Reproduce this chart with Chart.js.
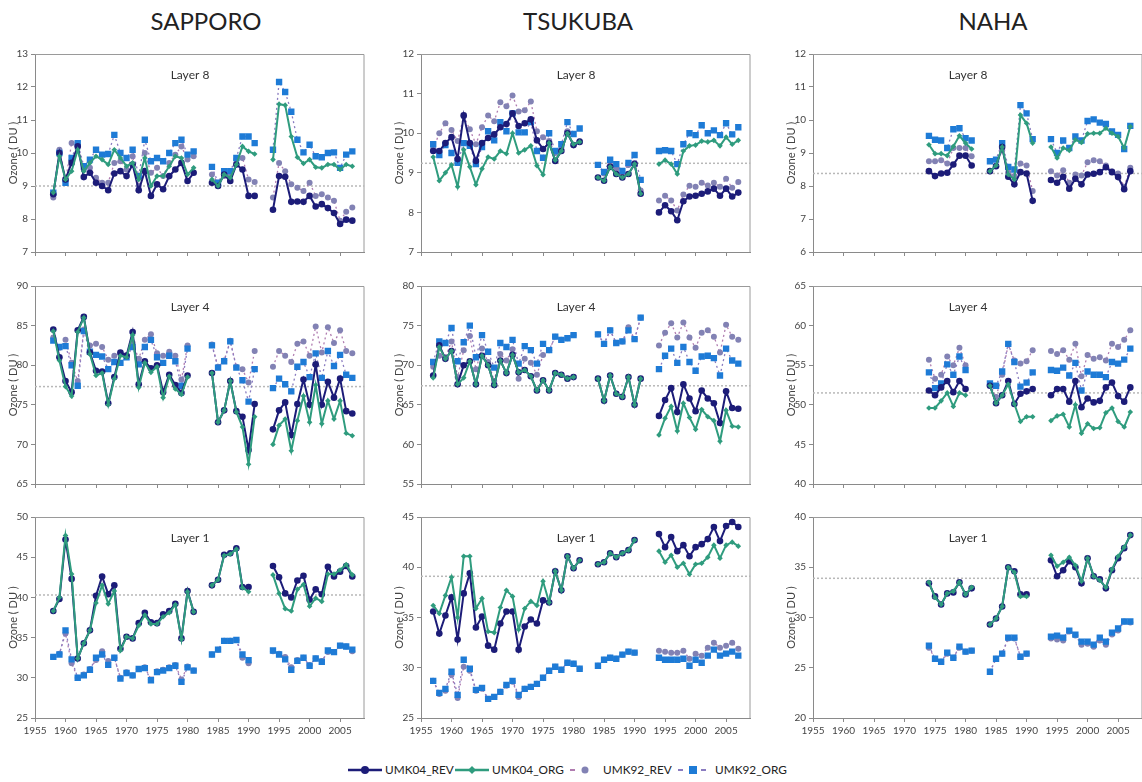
<!DOCTYPE html>
<html>
<head>
<meta charset="utf-8">
<title>Umkehr ozone layers</title>
<script src="https://cdn.jsdelivr.net/npm/chart.js@4.4.1/dist/chart.umd.min.js"></script>
<style>
    body {
        margin: 0;
        width: 1142px;
        height: 782px;
        overflow: hidden;
        position: relative;
        background: #fff;
        font-family: Lato, 'Open Sans', sans-serif;
    }
    .station {
        position: absolute;
        top: 6px;
        font-size: 24px;
        color: #222;
        transform: translateX(-50%);
        white-space: nowrap;
    }
    .panel {
        position: absolute;
    }
    .legend-item {
        position: absolute;
        top: 762px;
        height: 16px;
        line-height: 16px;
        font-size: 11.8px;
        color: #222;
        white-space: nowrap;
    }
    .legend-item svg {
        position: absolute;
        top: 3px;
    }
</style>
</head>
<body>

<div class="station" style="left:206px">SAPPORO</div>
<div class="station" style="left:578px">TSUKUBA</div>
<div class="station" style="left:993px">NAHA</div>

<div class="legend-item" style="left:348px"><svg width="34" height="10"><line x1="0" y1="5" x2="34" y2="5" stroke="#1c1c78" stroke-width="2.5"/><circle cx="17" cy="5" r="4" fill="#1c1c78"/></svg></div>
<div class="legend-item" style="left:385px">UMK04_REV</div>
<div class="legend-item" style="left:455px"><svg width="34" height="10"><line x1="0" y1="5" x2="34" y2="5" stroke="#2f9c7e" stroke-width="2.5"/><path d="M17 1 L21 5 L17 9 L13 5 Z" fill="#2f9c7e"/></svg></div>
<div class="legend-item" style="left:492px">UMK04_ORG</div>
<div class="legend-item" style="left:568px"><svg width="30" height="10"><line x1="2" y1="5" x2="7" y2="5" stroke="#b07cb0" stroke-width="2"/><circle cx="17" cy="5" r="3.5" fill="#8282b4"/></svg></div>
<div class="legend-item" style="left:603px">UMK92_REV</div>
<div class="legend-item" style="left:676px"><svg width="34" height="10"><line x1="2" y1="5" x2="7" y2="5" stroke="#8a7cc0" stroke-width="2"/><rect x="13" y="1" width="8" height="8" fill="#1e7bd6"/><line x1="25" y1="5" x2="30" y2="5" stroke="#8a7cc0" stroke-width="2"/></svg></div>
<div class="legend-item" style="left:715px">UMK92_ORG</div>

<script>
// Annual layer ozone (DU), one value per year, null where no record.
// Sapporo series start in 1958, Tsukuba in 1957, Naha in 1974.

const stationNames = ['SAPPORO', 'TSUKUBA', 'NAHA'];
const layerNames = ['Layer 8', 'Layer 4', 'Layer 1'];
const startYears = [1958, 1957, 1974];

// Sapporo
const sapL8Rev = [8.75, 10.0, 9.2, 9.7, 10.2, 9.27, 9.4, 9.1, 9.0, 8.87, 9.38, 9.45, 9.3, 9.65, 8.87, 9.45, 8.7, 9.05, 8.9, 9.3, 9.5, 9.7, 9.15, 9.4, null, null, 9.1, 9.0, 9.35, 9.15, 9.65, 9.5, 8.7, 8.7, null, null, 8.28, 9.3, 9.28, 8.52, 8.53, 8.52, 8.7, 8.38, 8.45, 8.33, 8.18, 7.85, 7.98, 7.95];
const sapL8Org = [8.8, 9.9, 9.2, 9.45, 10.1, 9.45, 9.7, 9.9, 9.8, 9.65, 10.1, 9.85, 9.6, 9.7, 9.2, 9.85, 9.0, 9.3, 9.3, 9.6, 9.9, 9.85, 9.35, 9.55, null, null, 9.2, 9.0, 9.35, 9.25, 9.65, 10.2, 10.05, 9.97, null, null, 9.8, 11.48, 11.45, 10.5, 9.87, 9.68, 9.8, 9.57, 9.55, 9.65, 9.65, 9.5, 9.65, 9.6];
const sapL8Rev92 = [8.65, 10.1, 9.15, 10.3, 10.2, 9.5, 9.55, 9.25, 9.1, 9.1, 9.7, 9.75, 9.5, 9.9, 9.0, 10.0, 9.4, 9.55, 9.3, 9.7, 9.95, 10.2, 9.8, 9.9, null, null, 9.35, 9.1, 9.3, 9.35, 9.8, 9.85, 9.2, 9.12, null, null, 8.65, 9.7, 9.45, 9.05, 8.95, 8.85, 9.1, 8.7, 8.75, 8.65, 8.55, 7.95, 8.22, 8.35];
const sapL8Org92 = [8.8, 10.0, 9.1, 9.85, 10.3, 9.6, 9.8, 10.1, 9.95, 9.97, 10.55, 10.0, 9.85, 10.1, 9.3, 10.4, 9.75, 9.85, 9.75, 10.0, 10.3, 10.4, 9.95, 10.05, null, null, 9.58, 9.1, 9.45, 9.45, 9.85, 10.5, 10.5, 10.3, null, null, 10.1, 12.15, 11.85, 11.25, 10.4, 10.02, 10.25, 9.9, 9.87, 10.0, 10.02, 9.55, 9.95, 10.05];

const sapL4Rev = [84.5, 81.0, 78.0, 76.6, 84.4, 86.1, 81.6, 79.3, 79.2, 75.2, 78.5, 81.6, 81.2, 84.2, 77.6, 80.5, 79.6, 80.0, 76.6, 78.8, 77.5, 76.5, 78.7, null, null, null, 79.0, 72.8, 74.3, 78.0, 74.2, 73.5, 69.3, 75.1, null, null, 71.9, 74.3, 75.3, 71.2, 75.1, 78.2, 75.0, 80.1, 75.0, 77.9, 75.9, 78.3, 74.2, 73.9];
const sapL4Org = [84.3, 80.6, 77.3, 76.1, 84.2, 86.0, 81.4, 78.7, 79.0, 75.0, 78.3, 81.2, 81.0, 83.8, 77.2, 80.3, 79.1, 79.8, 75.9, 78.6, 77.0, 76.3, 78.5, null, null, null, 79.0, 72.8, 74.3, 78.0, 74.1, 72.2, 67.5, 73.5, null, null, 70.0, 72.4, 73.2, 69.2, 73.0, 76.1, 72.8, 77.5, 72.6, 75.5, 73.2, 75.5, 71.4, 71.1];
const sapL4Rev92 = [83.5, 82.2, 83.2, 80.3, 78.0, 84.5, 82.5, 82.7, 82.3, 80.7, 81.2, 81.5, 81.3, 82.8, 80.8, 83.2, 83.9, 81.5, 81.2, 81.7, 81.2, 78.2, 82.5, null, null, null, 82.6, 79.8, 80.6, 83.1, 79.8, 79.5, 77.8, 81.8, null, null, 79.8, 81.8, 81.2, 80.4, 82.7, 83.0, 81.2, 84.9, 81.6, 84.8, 82.8, 84.4, 81.8, 81.5];
const sapL4Org92 = [83.1, 82.3, 82.4, 80.0, 77.4, 84.3, 81.7, 81.3, 81.1, 79.5, 80.4, 80.3, 81.0, 82.3, 80.1, 82.3, 83.2, 81.0, 80.3, 81.2, 80.5, 77.4, 82.1, null, null, null, 82.5, 79.7, 80.5, 83.0, 79.7, 78.1, 75.4, 79.5, null, null, 77.1, 78.3, 77.6, 76.7, 79.8, 80.4, 78.5, 81.5, 78.4, 81.8, 79.9, 81.3, 78.8, 78.4];

const sapL1Rev = [38.3, 39.8, 47.2, 42.3, 32.4, 34.3, 35.9, 40.2, 42.6, 40.4, 41.5, 33.6, 35.1, 34.9, 36.8, 38.1, 36.9, 36.8, 37.9, 38.3, 39.2, 34.9, 40.8, 38.2, null, null, 41.5, 42.2, 45.3, 45.5, 46.1, 41.3, 41.3, null, null, null, 43.9, 42.5, 40.5, 40.0, 42.1, 42.7, 39.7, 41.0, 40.4, 43.8, 42.6, 43.2, 43.9, 42.6];
const sapL1Org = [38.3, 40.0, 47.7, 42.9, 32.4, 34.3, 35.9, 39.3, 41.5, 39.2, 40.8, 33.4, 35.1, 34.9, 36.5, 37.8, 36.7, 36.7, 37.6, 38.1, 39.1, 34.8, 40.7, 38.2, null, null, 41.5, 42.2, 45.2, 45.4, 46.0, 41.2, 40.7, null, null, null, 42.8, 40.5, 38.6, 38.3, 41.0, 41.6, 38.9, 39.9, 39.5, 42.9, 42.9, 43.4, 44.1, 42.8];
const sapL1Rev92 = [32.6, 33.0, 35.5, 31.8, 30.0, 30.4, 31.1, 32.2, 33.3, 32.1, 32.5, 30.0, 30.7, 30.3, 31.1, 31.3, 29.8, 30.8, 31.0, 31.3, 31.6, 29.8, 31.4, 30.9, null, null, 32.9, 33.5, 34.6, 34.6, 34.7, 32.5, 31.8, null, null, null, 33.3, 33.0, 32.6, 31.3, 32.2, 32.5, 31.6, 32.4, 32.1, 33.2, 33.2, 34.0, 33.9, 33.3];
const sapL1Org92 = [32.6, 32.9, 35.9, 32.3, 30.0, 30.3, 31.0, 32.5, 32.9, 31.6, 32.5, 29.9, 30.6, 30.3, 31.1, 31.2, 29.7, 30.7, 30.9, 31.2, 31.5, 29.5, 31.3, 30.9, null, null, 32.9, 33.5, 34.6, 34.6, 34.7, 32.9, 32.2, null, null, null, 33.4, 32.9, 32.3, 31.0, 32.1, 32.5, 31.5, 32.4, 32.0, 33.4, 33.2, 34.0, 33.9, 33.5];

// Tsukuba
const tskL8Rev = [9.55, 9.55, 9.75, 9.9, 9.35, 10.45, 9.75, 9.3, 9.75, 9.88, 9.97, 10.15, 10.23, 10.5, 10.18, 10.25, 10.35, 9.82, 9.6, 9.75, 9.3, 9.55, 10.0, 9.7, 9.78, null, null, 8.88, 8.8, 9.15, 8.97, 8.88, 8.97, 9.22, 8.47, null, null, 8.0, 8.18, 8.03, 7.8, 8.28, 8.4, 8.42, 8.47, 8.53, 8.6, 8.42, 8.6, 8.4, 8.5];
const tskL8Org = [9.4, 8.8, 9.0, 9.2, 8.65, 9.58, 9.15, 8.7, 9.1, 9.4, 9.35, 9.55, 9.48, 10.0, 9.5, 9.58, 9.68, 9.18, 8.95, 9.75, 9.32, 9.55, 10.0, 9.72, 9.78, null, null, 8.88, 8.8, 9.15, 8.97, 8.88, 8.97, 9.22, 8.47, null, null, 9.22, 9.32, 9.22, 8.97, 9.55, 9.68, 9.7, 9.8, 9.78, 9.82, 9.68, 9.9, 9.72, 9.82];
const tskL8Rev92 = [9.6, 10.0, 10.25, 10.08, 9.8, 10.42, 10.1, 9.72, 10.15, 10.45, 10.3, 10.78, 10.68, 10.95, 10.55, 10.58, 10.8, 10.05, 9.9, 9.8, 9.5, 9.6, 10.05, 9.7, 9.8, null, null, 9.2, 8.98, 9.2, 9.1, 8.95, 9.2, 9.25, 8.55, null, null, 8.3, 8.42, 8.3, 8.05, 8.45, 8.67, 8.65, 8.75, 8.68, 8.75, 8.65, 8.85, 8.62, 8.77];
const tskL8Org92 = [9.72, 9.45, 9.7, 9.5, 9.25, 9.75, 9.68, 9.22, 9.65, 10.05, 9.82, 10.28, 10.05, 10.5, 10.02, 10.02, 10.28, 9.55, 9.38, 10.0, 9.55, 9.72, 10.28, 9.98, 10.12, null, null, 9.2, 9.02, 9.33, 9.22, 9.05, 9.25, 9.45, 8.82, null, null, 9.55, 9.57, 9.55, 9.22, 9.72, 10.0, 9.95, 10.2, 10.0, 10.07, 9.95, 10.25, 9.97, 10.15];

const tskL4Rev = [68.7, 72.5, 70.8, 71.8, 67.6, 70.0, 70.5, 67.6, 71.2, 70.0, 67.5, 70.6, 69.0, 71.3, 69.1, 69.4, 68.6, 66.8, 68.1, 66.8, 69.0, 68.8, 68.3, 68.5, null, null, null, 68.3, 65.5, 68.7, 66.4, 66.0, 68.5, 65.0, 68.3, null, null, 63.6, 65.6, 67.1, 64.1, 67.6, 65.8, 64.2, 66.8, 65.8, 65.2, 62.7, 66.7, 64.6, 64.5];
const tskL4Org = [68.4, 72.3, 70.8, 71.8, 67.6, 68.4, 70.5, 67.6, 71.2, 70.0, 67.5, 70.6, 69.0, 71.3, 69.1, 69.4, 68.6, 66.8, 68.1, 66.8, 69.0, 68.8, 68.3, 68.5, null, null, null, 68.3, 65.5, 68.7, 66.4, 66.0, 68.5, 65.0, 68.3, null, null, 61.2, 63.3, 64.8, 61.7, 65.2, 63.4, 61.9, 64.4, 63.5, 63.0, 60.4, 64.3, 62.3, 62.2];
const tskL4Rev92 = [69.8, 71.2, 71.0, 73.0, 68.5, 71.9, 73.7, 69.5, 72.1, 70.4, 68.0, 71.4, 70.6, 72.0, 68.3, 70.8, 70.3, 68.8, 71.3, 71.9, 73.6, 73.2, 73.4, 73.8, null, null, null, 73.9, 72.7, 74.4, 72.8, 73.0, 74.8, 73.3, 76.0, null, null, 72.5, 74.1, 75.3, 73.5, 75.4, 73.5, 72.2, 74.1, 74.4, 73.6, 71.6, 75.1, 73.6, 73.2];
const tskL4Org92 = [70.4, 73.0, 72.8, 74.7, 70.5, 72.9, 75.0, 71.0, 73.8, 71.7, 69.7, 72.8, 72.3, 73.2, 70.2, 72.4, 71.9, 70.2, 72.7, 71.9, 73.6, 73.2, 73.4, 73.8, null, null, null, 73.9, 72.7, 74.4, 72.8, 73.0, 74.4, 73.3, 76.0, null, null, 69.5, 71.2, 72.1, 70.3, 72.3, 70.4, 69.3, 71.1, 71.2, 70.9, 68.7, 72.1, 70.6, 70.2];

const tskL1Rev = [35.6, 33.4, 35.2, 37.0, 32.8, 37.4, 39.4, 34.0, 35.1, 32.2, 31.8, 34.4, 35.6, 35.6, 31.8, 34.1, 34.8, 34.4, 36.7, 36.5, 39.6, 37.7, 41.1, 39.9, 40.7, null, null, 40.3, 40.5, 41.4, 41.0, 41.4, 41.7, 42.7, null, null, null, 43.3, 42.0, 43.0, 41.6, 42.2, 41.1, 42.0, 42.3, 42.8, 44.0, 42.6, 44.1, 44.5, 44.0];
const tskL1Org = [36.2, 35.4, 37.2, 39.0, 35.0, 41.1, 41.1, 35.9, 36.9, 33.6, 33.5, 36.0, 37.7, 37.1, 33.8, 35.9, 36.6, 36.2, 38.6, 36.5, 39.6, 37.7, 41.1, 39.9, 40.7, null, null, 40.3, 40.5, 41.4, 41.0, 41.4, 41.7, 42.7, null, null, null, 41.6, 40.5, 41.2, 40.0, 40.4, 39.3, 40.3, 40.4, 41.0, 42.2, 40.9, 42.2, 42.5, 42.1];
const tskL1Rev92 = [28.7, 27.4, 27.7, 29.3, 27.0, 30.1, 29.7, 27.7, 27.9, 26.9, 27.1, 27.6, 28.2, 28.6, 27.1, 27.9, 28.1, 28.4, 29.0, 29.7, 30.1, 29.8, 30.5, 30.4, 29.9, null, null, 30.2, 30.8, 31.0, 30.9, 31.3, 31.6, 31.5, null, null, null, 31.7, 31.6, 31.5, 31.5, 31.7, 30.9, 31.4, 31.2, 32.0, 32.5, 32.0, 32.2, 32.5, 31.9];
const tskL1Org92 = [28.7, 27.5, 27.9, 29.6, 27.3, 30.8, 29.9, 27.8, 28.0, 26.9, 27.1, 27.6, 28.3, 28.7, 27.3, 27.9, 28.1, 28.4, 29.0, 29.7, 30.1, 29.8, 30.5, 30.4, 29.9, null, null, 30.2, 30.8, 31.0, 30.9, 31.3, 31.6, 31.5, null, null, null, 31.0, 30.8, 30.8, 30.8, 30.9, 30.2, 30.8, 30.5, 31.2, 31.8, 31.2, 31.4, 31.6, 31.2];

// Naha
const nahL8Rev = [8.45, 8.3, 8.38, 8.4, 8.65, 8.92, 8.92, 8.62, null, null, 8.45, 8.6, 9.18, 8.28, 8.05, 8.42, 8.38, 7.55, null, null, 8.18, 8.1, 8.28, 7.92, 8.22, 8.05, 8.35, 8.37, 8.42, 8.57, 8.42, 8.27, 7.9, 8.45];
const nahL8Org = [9.25, 8.98, 8.98, 8.92, 9.2, 9.52, 9.3, 9.12, null, null, 8.45, 8.62, 9.18, 8.35, 8.2, 10.15, 9.9, 9.3, null, null, 9.18, 8.85, 9.15, 9.08, 9.4, 9.32, 9.58, 9.6, 9.6, 9.75, 9.6, 9.5, 9.15, 9.8];
const nahL8Rev92 = [8.75, 8.75, 8.78, 8.68, 9.15, 9.15, 9.15, 8.9, null, null, 8.45, 8.62, 9.08, 8.42, 8.3, 8.68, 8.62, 7.85, null, null, 8.45, 8.32, 8.48, 8.1, 8.35, 8.32, 8.72, 8.78, 8.75, 8.62, 8.45, 8.38, 7.98, 8.55];
const nahL8Org92 = [9.52, 9.4, 9.38, 9.15, 9.72, 9.75, 9.45, 9.38, null, null, 8.75, 8.8, 9.3, 8.58, 8.5, 10.45, 10.2, 9.42, null, null, 9.42, 9.0, 9.38, 9.15, 9.5, 9.38, 9.97, 10.02, 9.92, 9.88, 9.65, 9.55, 9.12, 9.82];

const nahL4Rev = [51.8, 51.2, 52.2, 53.0, 51.6, 53.0, 52.0, null, null, null, 52.4, 50.2, 51.2, 53.0, 50.1, 51.4, 51.7, 52.0, null, null, 51.2, 52.0, 52.0, 50.4, 53.0, 49.7, 50.8, 50.3, 50.5, 52.2, 52.8, 51.1, 50.4, 52.2];
const nahL4Org = [49.6, 49.6, 50.5, 51.5, 49.8, 51.5, 51.2, null, null, null, 52.4, 50.2, 51.2, 52.6, 50.1, 47.9, 48.5, 48.5, null, null, 48.0, 48.6, 48.8, 47.2, 50.0, 46.4, 47.6, 47.0, 47.1, 49.0, 49.6, 47.9, 47.2, 49.1];
const nahL4Rev92 = [55.7, 53.3, 53.8, 56.1, 55.0, 57.2, 55.0, null, null, null, 52.6, 51.0, 53.8, 57.6, 55.6, 55.2, 55.5, 56.9, null, null, 56.8, 56.4, 56.9, 55.7, 57.7, 53.6, 56.3, 55.8, 56.0, 55.6, 57.7, 57.3, 58.2, 59.4];
const nahL4Org92 = [54.1, 52.1, 52.7, 55.1, 53.8, 56.1, 54.4, null, null, null, 52.7, 52.4, 54.2, 57.7, 55.4, 52.3, 52.8, 54.1, null, null, 54.4, 54.3, 54.7, 53.7, 55.3, 51.8, 54.2, 53.8, 53.8, 53.5, 55.4, 55.2, 55.7, 57.1];

const nahL1Rev = [33.4, 32.1, 31.3, 32.4, 32.5, 33.5, 32.3, 32.9, null, null, 29.3, 29.9, 31.1, 35.0, 34.6, 32.3, 32.3, null, null, null, 35.7, 34.1, 34.7, 35.6, 35.0, 33.4, 35.9, 34.1, 33.8, 32.9, 34.7, 35.9, 36.9, 38.2];
const nahL1Org = [33.5, 32.0, 31.3, 32.4, 32.6, 33.5, 32.3, 33.0, null, null, 29.3, 29.9, 31.1, 35.0, 34.5, 32.1, 32.1, null, null, null, 36.2, 35.1, 35.5, 36.0, 35.2, 33.6, 35.9, 34.1, 33.7, 33.0, 34.8, 36.1, 37.0, 38.2];
const nahL1Rev92 = [27.0, 25.9, 25.6, 26.4, 26.0, 27.0, 26.6, 26.7, null, null, 24.6, 25.9, 26.4, 27.9, 27.9, 26.1, 26.4, null, null, null, 27.9, 27.8, 27.7, 28.6, 28.2, 27.3, 27.4, 27.1, 27.7, 27.3, 28.3, 28.7, 29.6, 29.5];
const nahL1Org92 = [27.2, 25.9, 25.6, 26.5, 26.0, 27.1, 26.6, 26.7, null, null, 24.6, 25.9, 26.4, 28.0, 28.0, 26.1, 26.4, null, null, null, 28.1, 28.2, 28.0, 28.7, 28.3, 27.6, 27.6, 27.3, 28.0, 27.6, 28.5, 28.9, 29.6, 29.6];

// Long-term mean level drawn as the dotted line (Layer 8, 4, 1)
const sapporoRef = [9.0, 77.3, 40.3];
const tsukubaRef = [9.24, 67.4, 39.1];
const nahaRef = [8.38, 51.5, 33.9];

// Y axis ranges [min, max, step] per layer
const sapporoAxis = [[7, 13, 1], [65, 90, 5], [25, 50, 5]];
const tsukubaAxis = [[7, 12, 1], [55, 80, 5], [25, 45, 5]];
const nahaAxis = [[6, 12, 1], [40, 65, 5], [20, 40, 5]];

const yearTicks = [1955, 2009, 5];

// rows: layer 8, 4, 1 ; columns: Sapporo, Tsukuba, Naha
const seriesGrid = [
    [[sapL8Rev, sapL8Org, sapL8Rev92, sapL8Org92], [tskL8Rev, tskL8Org, tskL8Rev92, tskL8Org92], [nahL8Rev, nahL8Org, nahL8Rev92, nahL8Org92]],
    [[sapL4Rev, sapL4Org, sapL4Rev92, sapL4Org92], [tskL4Rev, tskL4Org, tskL4Rev92, tskL4Org92], [nahL4Rev, nahL4Org, nahL4Rev92, nahL4Org92]],
    [[sapL1Rev, sapL1Org, sapL1Rev92, sapL1Org92], [tskL1Rev, tskL1Org, tskL1Rev92, tskL1Org92], [nahL1Rev, nahL1Org, nahL1Rev92, nahL1Org92]]
];
const refGrid = [sapporoRef, tsukubaRef, nahaRef];
const axisGrid = [sapporoAxis, tsukubaAxis, nahaAxis];

// colours
const NAVY = '#1c1c78';
const GREEN = '#2f9c7e';
const PURPLE = '#8282b4';
const PURPLE_LINE = '#b07cb0';
const BLUE = '#1e7bd6';
const BLUE_LINE = '#8a7cc0';

// panel layout
const plotLeft = [35, 421, 813];
const plotTop = [51, 283, 514];
const plotW = 333;
const plotH = 204;
const yAxisW = 34;
const padTop = 6;

function toPoints(values, start) {
    return values.map(function(v, i) {
        return { x: start + i, y: v };
    });
}

// frame around the plot area plus the layer caption
const framePlugin = {
    id: 'frame',
    beforeDatasetsDraw: function(chart, args, opts) {
        const a = chart.chartArea;
        const ctx = chart.ctx;
        ctx.save();
        ctx.strokeStyle = '#9a9a9a';
        ctx.lineWidth = 1;
        ctx.beginPath();
        ctx.moveTo(a.left, a.top + 0.5);
        ctx.lineTo(a.right - 0.5, a.top + 0.5);
        ctx.lineTo(a.right - 0.5, a.bottom);
        ctx.stroke();
        ctx.fillStyle = '#333';
        ctx.font = '12px Lato, "Open Sans", sans-serif';
        ctx.textAlign = 'center';
        ctx.textBaseline = 'middle';
        ctx.fillText(opts.label, a.left + 155, a.top + 21);
        ctx.restore();
    }
};

for (let row = 0; row < 3; row++) {
    for (let col = 0; col < 3; col++) {
        const bottomRow = row === 2;
        const xAxisH = bottomRow ? 24 : 6;
        const start = startYears[col];
        const series = seriesGrid[row][col];
        const ref = refGrid[col][row];
        const axis = axisGrid[col][row];

        const box = document.createElement('div');
        box.className = 'panel';
        box.style.left = (plotLeft[col] - yAxisW) + 'px';
        box.style.top = (plotTop[row] - padTop) + 'px';
        box.style.width = (yAxisW + plotW + 1) + 'px';
        box.style.height = (padTop + plotH + xAxisH) + 'px';
        const canvas = document.createElement('canvas');
        box.appendChild(canvas);
        document.body.appendChild(box);

        new Chart(canvas, {
            type: 'line',
            data: {
                datasets: [
                    {
                        label: 'UMK04_REV',
                        data: toPoints(series[0], start),
                        borderColor: NAVY,
                        backgroundColor: NAVY,
                        borderWidth: 2,
                        pointStyle: 'circle',
                        pointRadius: 3.3,
                        pointBorderWidth: 0,
                        order: 1
                    },
                    {
                        label: 'UMK04_ORG',
                        data: toPoints(series[1], start),
                        borderColor: GREEN,
                        backgroundColor: GREEN,
                        borderWidth: 2,
                        pointStyle: 'rectRot',
                        pointRadius: 2.8,
                        pointBorderWidth: 0,
                        order: 0
                    },
                    {
                        label: 'UMK92_REV',
                        data: toPoints(series[2], start),
                        borderColor: PURPLE_LINE,
                        backgroundColor: PURPLE,
                        pointBackgroundColor: PURPLE,
                        borderWidth: 1.3,
                        borderDash: [2, 3],
                        pointStyle: 'circle',
                        pointRadius: 3,
                        pointBorderWidth: 0,
                        order: 3
                    },
                    {
                        label: 'UMK92_ORG',
                        data: toPoints(series[3], start),
                        borderColor: BLUE_LINE,
                        backgroundColor: BLUE,
                        pointBackgroundColor: BLUE,
                        borderWidth: 1.3,
                        borderDash: [2, 3],
                        pointStyle: 'rect',
                        pointRadius: 4.5,
                        pointBorderWidth: 0,
                        order: 2
                    },
                    {
                        label: 'mean',
                        data: [{ x: yearTicks[0], y: ref }, { x: yearTicks[1], y: ref }],
                        borderColor: '#b8b8b8',
                        borderWidth: 1.5,
                        borderDash: [2, 2],
                        pointRadius: 0,
                        order: 9
                    }
                ]
            },
            options: {
                responsive: true,
                maintainAspectRatio: false,
                animation: false,
                events: [],
                layout: { padding: { top: padTop, right: 1, left: 0, bottom: 0 } },
                elements: { line: { tension: 0 } },
                plugins: {
                    legend: { display: false },
                    tooltip: { enabled: false },
                    frame: { label: layerNames[row] }
                },
                scales: {
                    x: {
                        type: 'linear',
                        min: yearTicks[0],
                        max: yearTicks[1],
                        border: { color: '#8a8a8a' },
                        grid: { drawOnChartArea: false, drawTicks: true, tickLength: 4, color: '#8a8a8a' },
                        ticks: {
                            stepSize: yearTicks[2],
                            includeBounds: false,
                            display: bottomRow,
                            autoSkip: false,
                            maxRotation: 0,
                            color: '#444',
                            padding: 3,
                            font: { size: 10, family: 'Lato, "Open Sans", sans-serif' },
                            callback: function(v) { return String(v); }
                        },
                        afterFit: function(scale) { scale.height = xAxisH; }
                    },
                    y: {
                        min: axis[0],
                        max: axis[1],
                        border: { color: '#8a8a8a' },
                        grid: { drawOnChartArea: false, drawTicks: true, tickLength: 4, color: '#8a8a8a' },
                        ticks: {
                            stepSize: axis[2],
                            color: '#444',
                            padding: 3,
                            font: { size: 10, family: 'Lato, "Open Sans", sans-serif' }
                        },
                        title: {
                            display: true,
                            text: 'Ozone ( DU )',
                            color: '#444',
                            padding: { top: 6, bottom: 0 },
                            font: { size: 11, family: 'Lato, "Open Sans", sans-serif' }
                        },
                        afterFit: function(scale) { scale.width = yAxisW; }
                    }
                }
            },
            plugins: [framePlugin]
        });
    }
}
</script>
</body>
</html>
